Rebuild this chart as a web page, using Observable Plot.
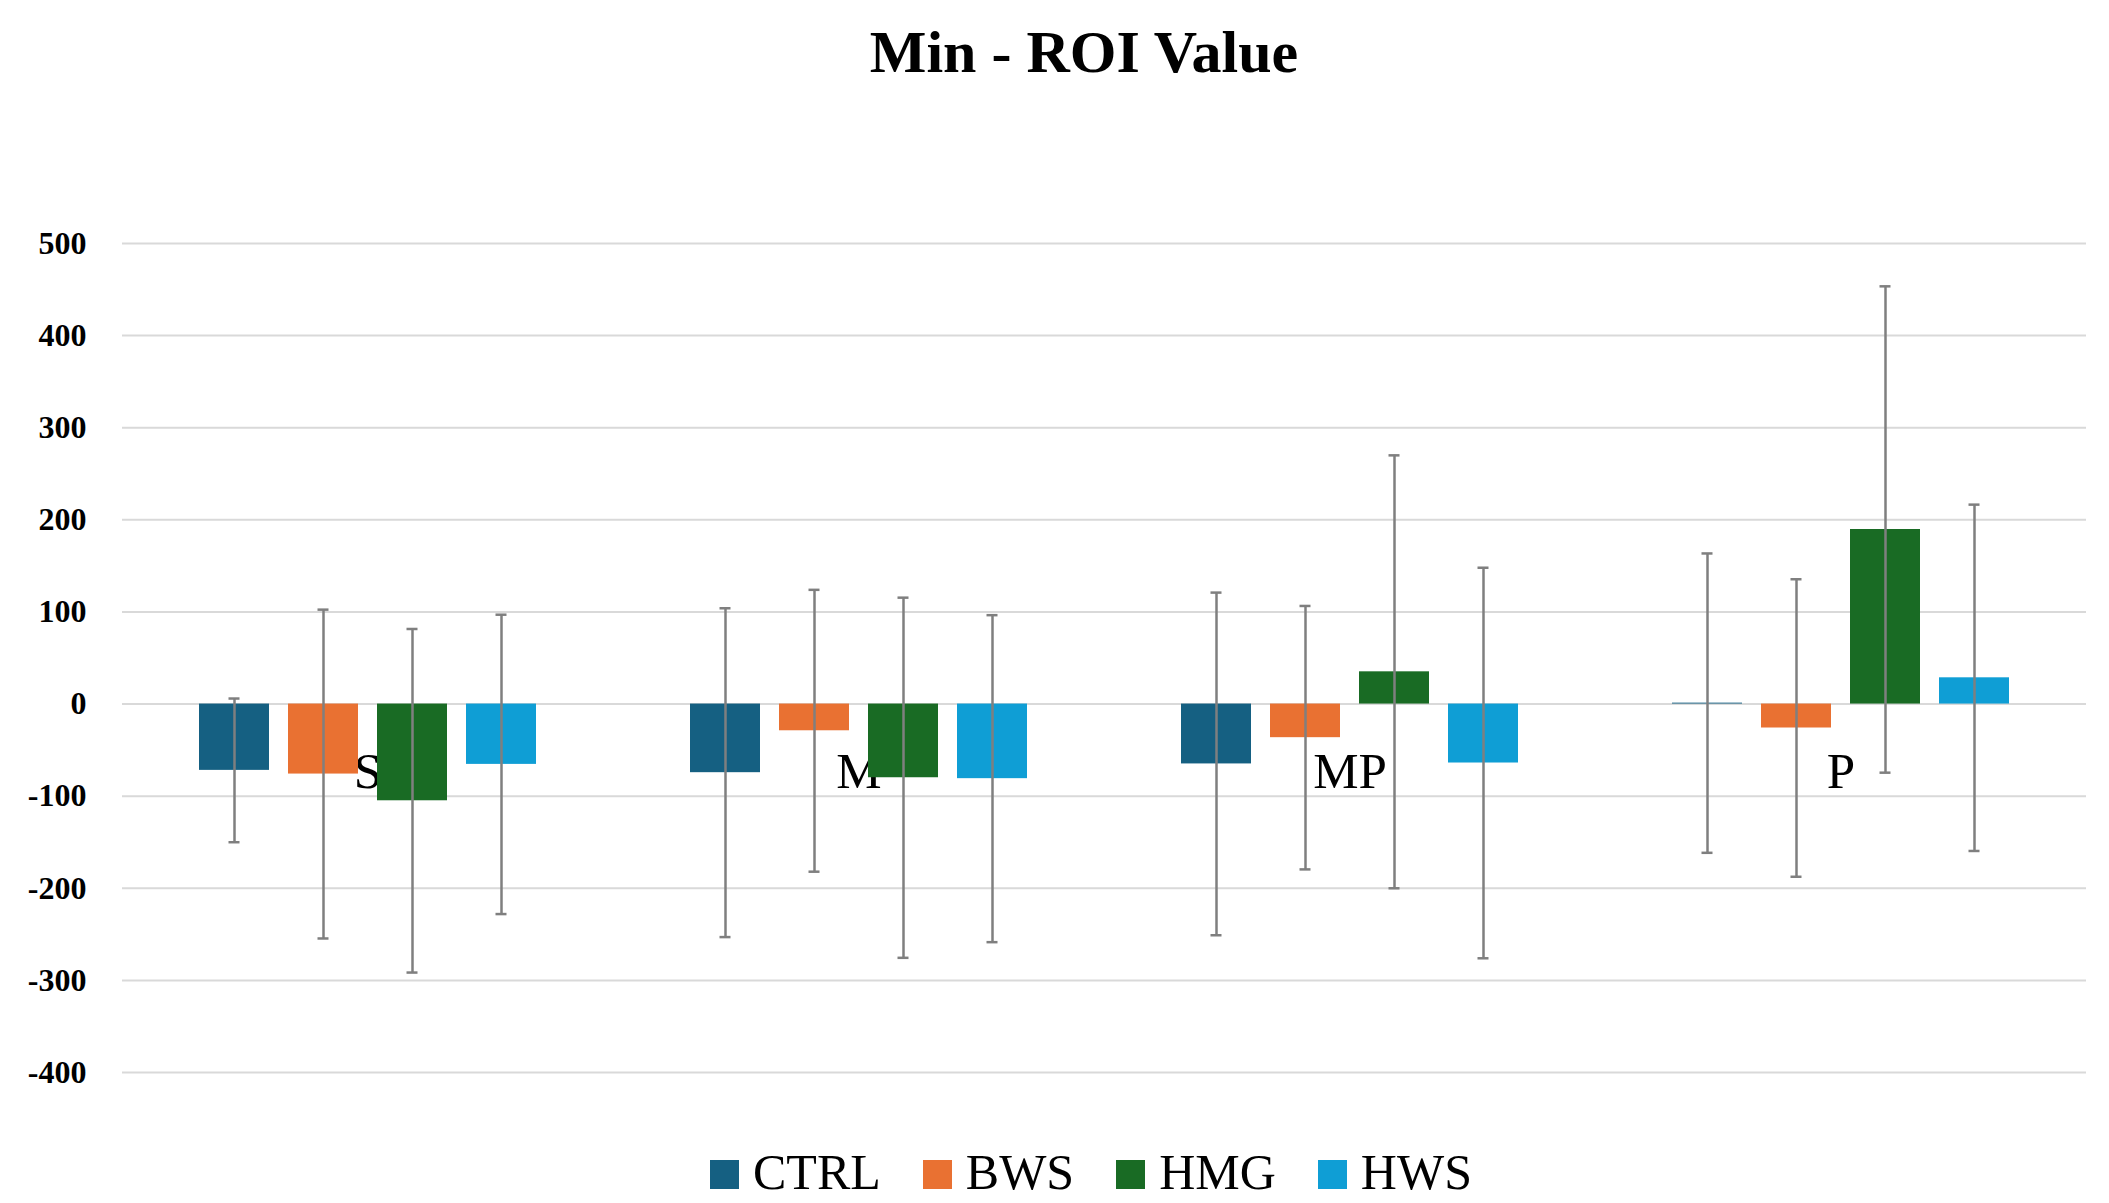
<!DOCTYPE html>
<html>
<head>
<meta charset="utf-8">
<script src="https://cdn.jsdelivr.net/npm/d3@7"></script>
<script src="https://cdn.jsdelivr.net/npm/@observablehq/plot@0.6"></script>
<style>
  html, body { margin: 0; padding: 0; background: #fff; }
  body { width: 2109px; height: 1203px; overflow: hidden; font-family: "Liberation Serif", "DejaVu Serif", serif; }
  #title { height: 98px; padding-top: 22px; padding-left: 59px; text-align: center; font-size: 60px; line-height: 60px; font-weight: bold; color: #000; }
  #chart svg { display: block; }
  #legend { height: 56px; padding-top: 27px; padding-left: 73px; display: flex; justify-content: center; font-size: 50px; line-height: 50px; color: #000; }
  .item { margin: 0 21px; white-space: nowrap; }
  .sw { display: inline-block; width: 29px; height: 29px; margin-right: 14px; vertical-align: baseline; }
</style>
</head>
<body>
<div id="title">Min - ROI Value</div>
<div id="chart"></div>
<div id="legend"></div>
<script>
const categories = ["S", "M", "MP", "P"];
const series = ["CTRL", "BWS", "HMG", "HWS"];
const colors = ["#156082", "#E97132", "#196B24", "#0F9ED5"];
const yTicks = [-400, -300, -200, -100, 0, 100, 200, 300, 400, 500];

// Mean values per series, in category order S, M, MP, P
const ctrlValues = [-72, -74.5, -65, 1];
const bwsValues  = [-76, -29, -36.5, -26];
const hmgValues  = [-105, -80, 35, 189.5];
const hwsValues  = [-65.5, -81, -64, 28.5];

// Error bar half-lengths (±) per series
const ctrlErr = [78, 178.5, 186, 162.5];
const bwsErr  = [178.5, 153, 143, 161.5];
const hmgErr  = [186.5, 195.5, 235, 264];
const hwsErr  = [162.5, 177.5, 212, 188];

const valueSets = [ctrlValues, bwsValues, hmgValues, hwsValues];
const errSets = [ctrlErr, bwsErr, hmgErr, hwsErr];

const data = [];
series.forEach((s, si) => {
  categories.forEach((c, ci) => {
    data.push({cat: c, series: s, value: valueSets[si][ci], err: errSets[si][ci]});
  });
});

const errColor = "#7f7f7f";

const plot = Plot.plot({
  width: 2109,
  height: 1000,
  marginTop: 123,
  marginBottom: 48,
  marginLeft: 121,
  marginRight: 22,
  style: {fontFamily: "Liberation Serif, DejaVu Serif, serif", color: "#000", background: "#fff"},
  fx: {domain: categories, padding: 0, axis: null},
  x: {domain: series, paddingInner: 0.215, paddingOuter: 0.864, axis: null},
  y: {domain: [-400, 500], axis: null},
  color: {domain: series, range: colors},
  marks: [
    Plot.gridY(yTicks, {stroke: "#d9d9d9", strokeOpacity: 1, strokeWidth: 2}),
    Plot.axisY(yTicks, {label: null, tickSize: 0, tickPadding: 36, tickFormat: d => String(d), fontWeight: "bold", fontSize: 32, fill: "#000"}),
    Plot.text(categories, {fx: d => d, y: d => 0, text: d => d, dy: 68, fontSize: 51, fill: "#000", lineAnchor: "middle"}),
    Plot.barY(data, {fx: "cat", x: "series", y: "value", fill: "series"}),
    Plot.ruleX(data, {fx: "cat", x: "series", y1: d => d.value - d.err, y2: d => d.value + d.err, stroke: errColor, strokeWidth: 2.5}),
    Plot.tickY(data, {fx: "cat", x: "series", y: d => d.value + d.err, stroke: errColor, strokeWidth: 2.5, insetLeft: 29.5, insetRight: 29.5}),
    Plot.tickY(data, {fx: "cat", x: "series", y: d => d.value - d.err, stroke: errColor, strokeWidth: 2.5, insetLeft: 29.5, insetRight: 29.5})
  ]
});
document.getElementById("chart").appendChild(plot);

const legend = document.getElementById("legend");
series.forEach((s, i) => {
  const item = document.createElement("span");
  item.className = "item";
  const sw = document.createElement("span");
  sw.className = "sw";
  sw.style.background = colors[i];
  item.appendChild(sw);
  item.appendChild(document.createTextNode(s));
  legend.appendChild(item);
});
</script>
</body>
</html>
